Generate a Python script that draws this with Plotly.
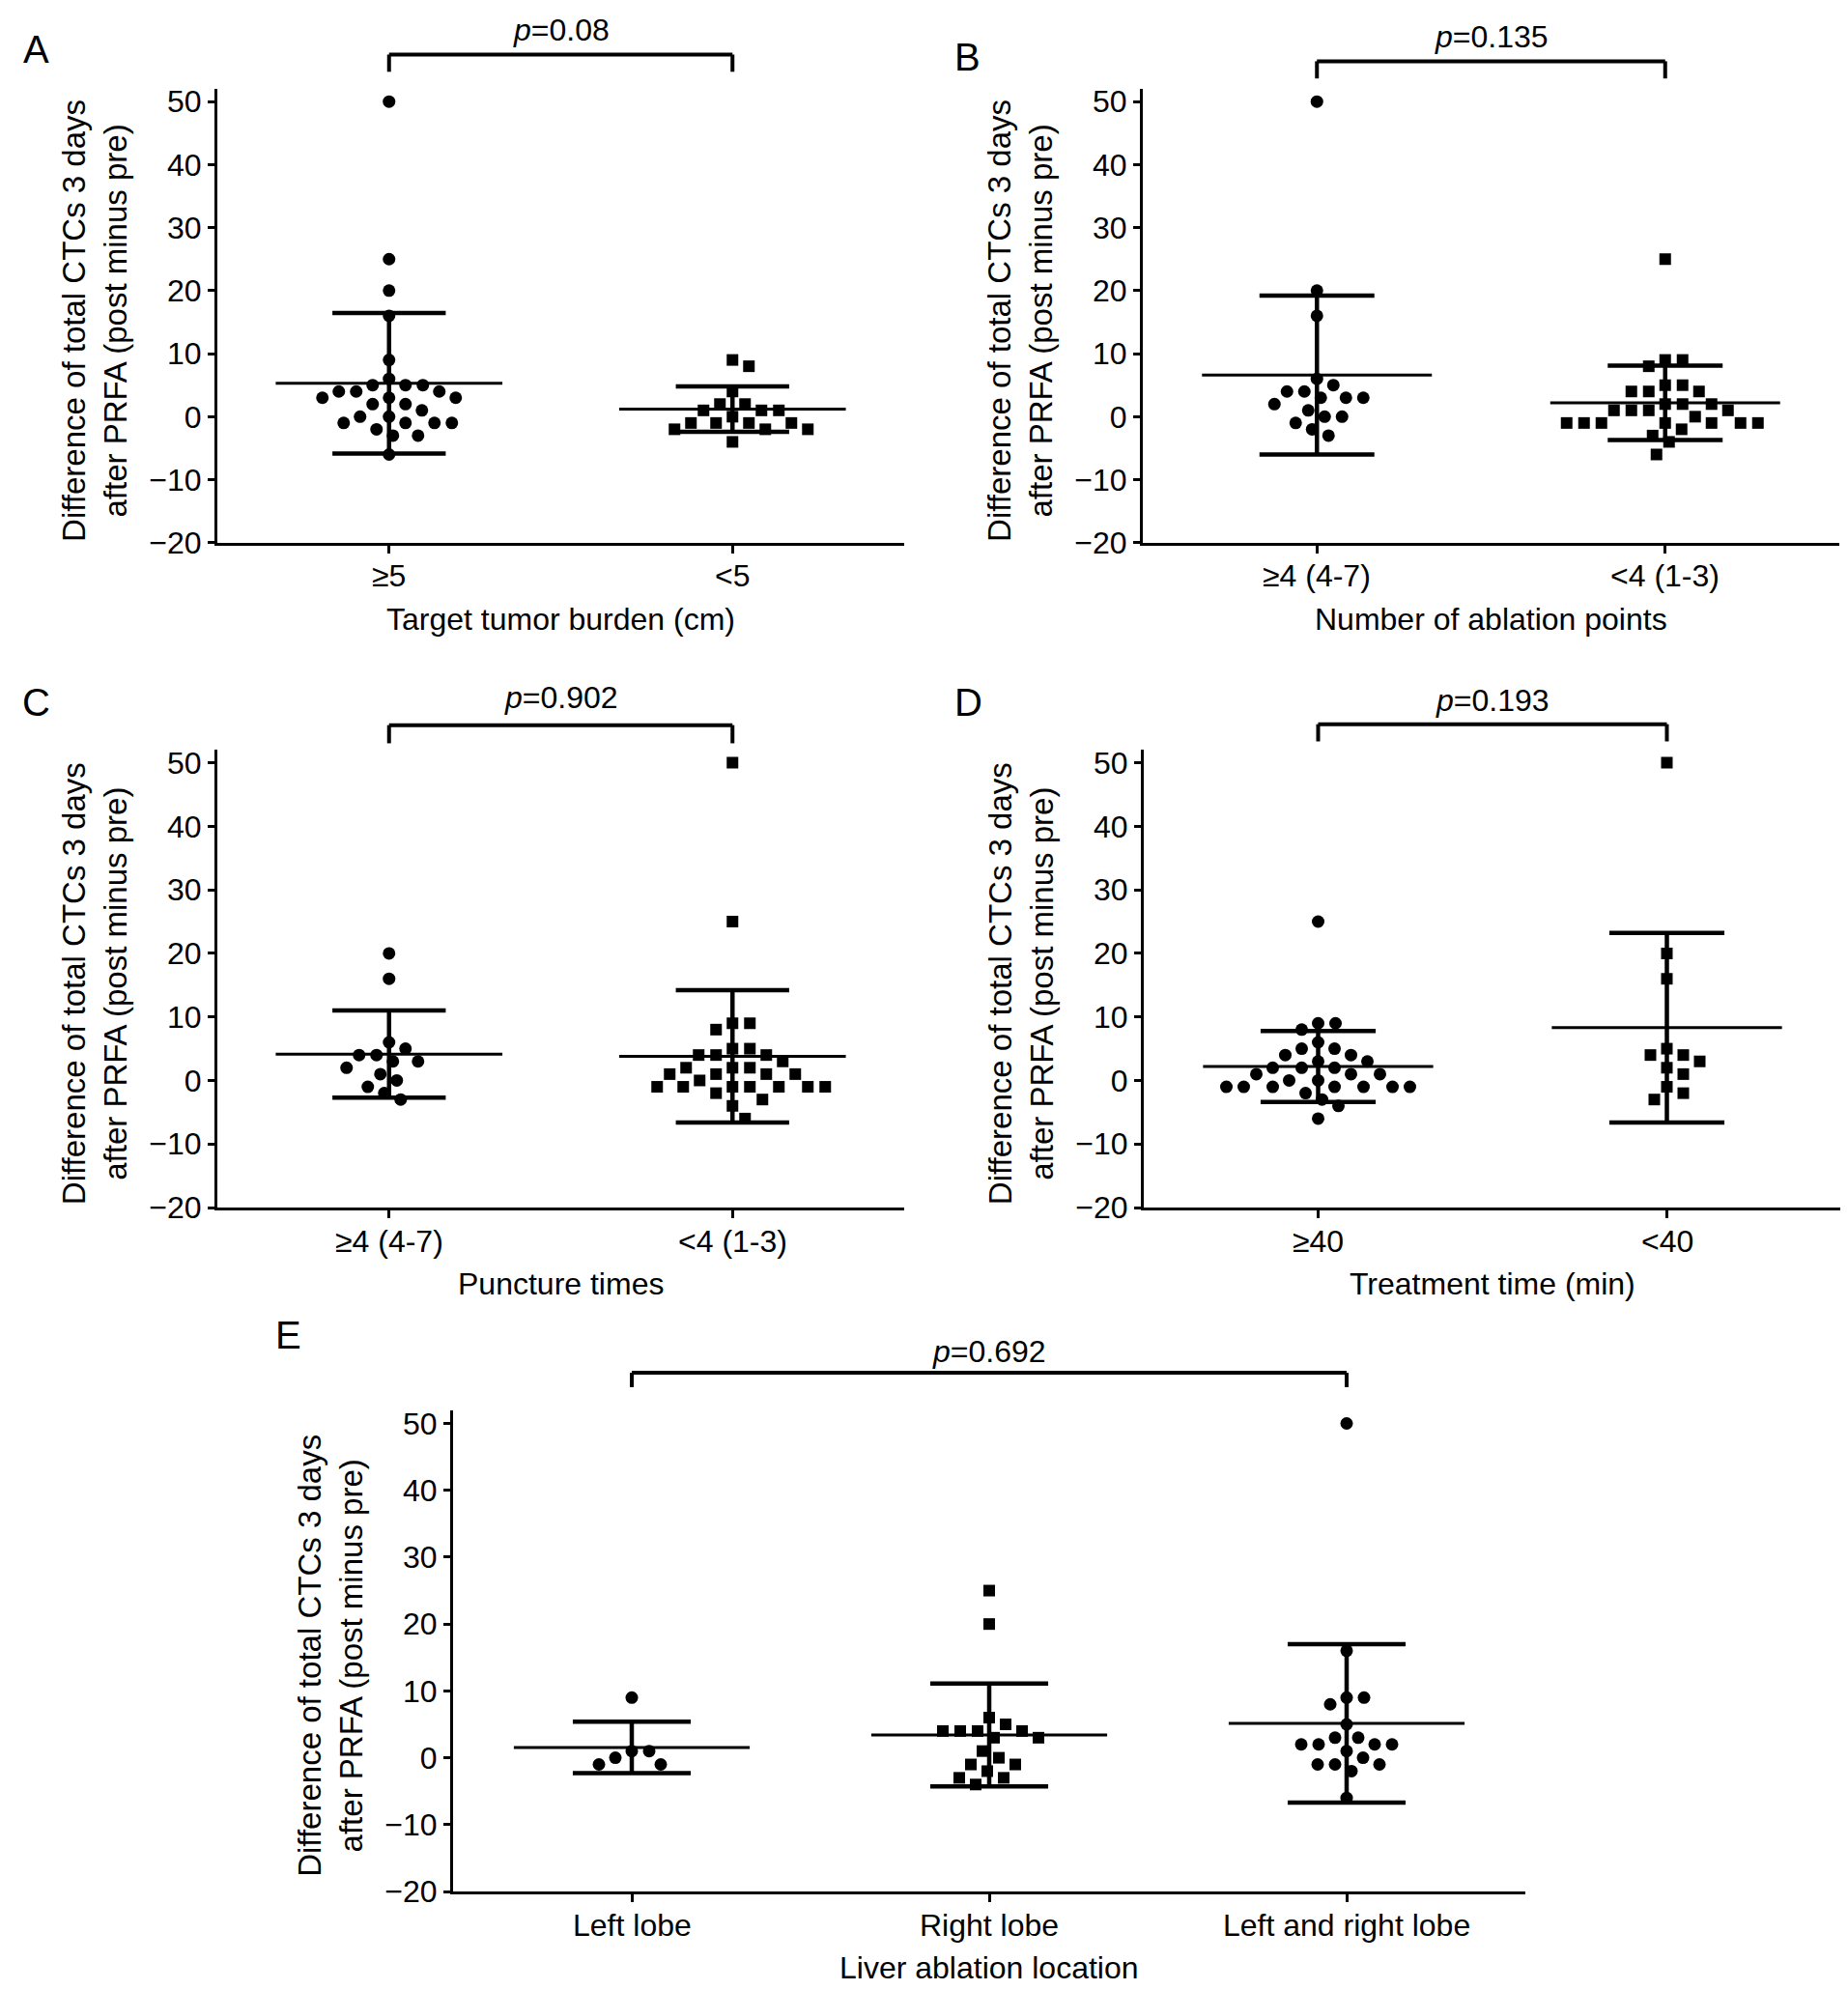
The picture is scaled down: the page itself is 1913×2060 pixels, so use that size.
import plotly.graph_objects as go

W, H = 1913, 2060
FONT = 'Liberation Sans, Arial, sans-serif'
YTITLE = 'Difference of total CTCs 3 days<br>after PRFA (post minus pre)'

# values (difference of CTCs, post minus pre)
a_cats = ['≥5', '<5']
a_ge5 = [50, 25, 20, 16, 9, 6, 5, 5, 5, 4, 4, 4, 3, 3, 3, 2, 2, 1, 0, 0, -1, -1, -1, -1, -2, -3, -3, -6]
a_lt5 = [9, 8, 4, 2, 2, 1, 1, 1, 0, -1, -1, -1, -1, -2, -2, -2, -4]
a_mean = [5.3, 1.2]
a_sd = [11.15, 3.6]

b_cats = ['≥4 (4-7)', '<4 (1-3)']
b_ge4 = [50, 20, 16, 6, 5, 4, 4, 3, 3, 3, 2, 1, 0, 0, -1, -2, -3]
b_lt4 = [25, 9, 9, 8, 5, 5, 4, 4, 4, 2, 2, 2, 1, 1, 1, 1, 0, -1, -1, -1, -1, -1, -1, -1, -2, -3, -4, -6]
b_mean = [6.6, 2.2]
b_sd = [12.6, 5.9]

c_cats = ['≥4 (4-7)', '<4 (1-3)']
c_ge4 = [20, 16, 6, 5, 4, 4, 3, 3, 2, 1, 0, -1, -2, -3]
c_lt4 = [50, 25, 9, 9, 8, 5, 5, 4, 4, 4, 3, 2, 2, 2, 1, 1, 1, 1, 0,
         -1, -1, -1, -1, -1, -1, -1, -2, -3, -4, -6]
c_mean = [4.15, 3.8]
c_sd = [6.85, 10.4]

d_cats = ['≥40', '<40']
d_ge40 = [25, 9, 9, 8, 6, 5, 5, 4, 4, 3, 3, 2, 2, 2, 1, 1, 1, 0, 0,
          -1, -1, -1, -1, -1, -1, -1, -2, -3, -4, -6]
d_lt40 = [50, 20, 16, 5, 4, 4, 3, 2, 1, -1, -2, -3]
d_mean = [2.2, 8.3]
d_sd = [5.6, 14.9]

e_cats = ['Left lobe', 'Right lobe', 'Left and right lobe']
e_left = [9, 1, 1, 0, -1, -1]
e_right = [25, 20, 6, 5, 4, 4, 4, 4, 3, 3, 1, 0, -1, -1, -2, -3, -3, -4]
e_both = [50, 16, 9, 9, 8, 5, 3, 3, 2, 2, 2, 2, 1, 0, -1, -1, -1, -2, -6]
e_mean = [1.55, 3.4, 5.15]
e_sd = [3.85, 7.7, 11.85]

p_values = ['0.08', '0.135', '0.902', '0.193', '0.692']

panels = [
    dict(letter='A', cats=a_cats, groups=[a_ge5, a_lt5], sym=['circle', 'square'],
         mean=a_mean, sd=a_sd, xtitle='Target tumor burden (cm)',
         box=(217, 928, 80, 555), lxy=(29, 38), py=18, br=(44, 62)),
    dict(letter='B', cats=b_cats, groups=[b_ge4, b_lt4], sym=['circle', 'square'],
         mean=b_mean, sd=b_sd, xtitle='Number of ablation points',
         box=(1175, 1896, 80, 555), lxy=(993, 47), py=25, br=(51, 69)),
    dict(letter='C', cats=c_cats, groups=[c_ge4, c_lt4], sym=['circle', 'square'],
         mean=c_mean, sd=c_sd, xtitle='Puncture times',
         box=(217, 928, 772, 1251), lxy=(29, 722), py=717, br=(746, 765)),
    dict(letter='D', cats=d_cats, groups=[d_ge40, d_lt40], sym=['circle', 'square'],
         mean=d_mean, sd=d_sd, xtitle='Treatment time (min)',
         box=(1176, 1898, 772, 1251), lxy=(995, 722), py=720, br=(745, 763)),
    dict(letter='E', cats=e_cats, groups=[e_left, e_right, e_both],
         sym=['circle', 'square', 'circle'],
         mean=e_mean, sd=e_sd, xtitle='Liver ablation location',
         box=(461, 1571, 1463, 1967), lxy=(290, 1384), py=1402, br=(1424, 1439)),
]

YMIN, YMAX = -20, 52


def px(x):
    return x / W


def py(y):
    return 1 - y / H


def swarm(vals, ppx, ppy, d=18):
    # simple beeswarm: push points sideways until they stop overlapping
    placed = []
    offs = [0.0] * len(vals)
    order = sorted(range(len(vals)), key=lambda i: -vals[i])
    for i in order:
        y = vals[i] * ppy
        k = 0
        dx = None
        while dx is None:
            for cand in ((0,) if k == 0 else (k, -k)):
                if all((cand - a) ** 2 + (y - b) ** 2 >= d * d for a, b in placed):
                    dx = cand
                    break
            k += 1
        placed.append((dx, y))
        offs[i] = dx / ppx
    return offs


fig = go.Figure()
layout = dict(width=W, height=H, margin=dict(l=0, r=0, t=0, b=0),
              paper_bgcolor='white', plot_bgcolor='white', showlegend=False,
              font=dict(family=FONT, size=32, color='black'))
shapes = []
annotations = []

for n, p in enumerate(panels, start=1):
    sfx = '' if n == 1 else str(n)
    xa, ya = 'x' + sfx, 'y' + sfx
    x0, x1, yt, yb = p['box']
    ncat = len(p['cats'])
    ppx = (x1 - x0) / ncat
    ppy = (yb - yt) / (YMAX - YMIN)

    layout['xaxis' + sfx] = dict(
        domain=[px(x0), px(x1)], anchor=ya, range=[-0.5, ncat - 0.5],
        tickvals=list(range(ncat)), showticklabels=False, showline=True,
        linecolor='black', linewidth=3, ticks='outside', ticklen=8, tickwidth=2.5,
        tickcolor='black', showgrid=False, zeroline=False)
    layout['yaxis' + sfx] = dict(
        domain=[py(yb), py(yt)], anchor=xa, range=[YMIN, YMAX],
        tickvals=list(range(-20, 51, 10)), showline=True, linecolor='black',
        linewidth=3, ticks='outside', ticklen=7, tickwidth=2.5, tickcolor='black',
        showgrid=False, zeroline=False, tickfont=dict(size=32))

    for g, vals in enumerate(p['groups']):
        offs = swarm(vals, ppx, ppy)
        m, s = p['mean'][g], p['sd'][g]
        # mean line
        fig.add_trace(go.Scatter(x=[g - 0.33, g + 0.33], y=[m, m], mode='lines',
                                 line=dict(color='black', width=3),
                                 xaxis=xa, yaxis=ya, hoverinfo='skip'))
        # SD bar
        fig.add_trace(go.Scatter(x=[g], y=[m], mode='markers',
                                 marker=dict(size=1, color='black'),
                                 error_y=dict(type='data', array=[s], color='black',
                                              thickness=4.5, width=0.165 * ppx),
                                 xaxis=xa, yaxis=ya, hoverinfo='skip'))
        fig.add_trace(go.Scatter(x=[g + o for o in offs], y=vals, mode='markers',
                                 marker=dict(symbol=p['sym'][g], color='black',
                                             size=13 if p['sym'][g] == 'circle' else 12,
                                             line=dict(width=0)),
                                 xaxis=xa, yaxis=ya))
        # category label under the tick
        annotations.append(dict(text=p['cats'][g], x=g, xref=xa, y=py(yb + 35),
                                yref='paper', showarrow=False, xanchor='center',
                                yanchor='middle', font=dict(size=32)))

    # significance bracket
    b0, b1 = py(p['br'][0]), py(p['br'][1])
    last = ncat - 1
    for xs, ys in (([0, last], [b0, b0]), ([0, 0], [b0, b1]), ([last, last], [b0, b1])):
        shapes.append(dict(type='line', xref=xa, yref='paper', x0=xs[0], x1=xs[1],
                           y0=ys[0], y1=ys[1], line=dict(color='black', width=4)))
    xmid = x0 + ppx * (0.5 + last / 2)
    annotations.append(dict(text='<i>p</i>=' + p_values[n - 1], x=px(xmid), y=py(p['py']),
                            xref='paper', yref='paper', showarrow=False,
                            xanchor='center', yanchor='middle', font=dict(size=32)))
    annotations.append(dict(text=p['letter'], x=px(p['lxy'][0]), y=py(p['lxy'][1]),
                            xref='paper', yref='paper', showarrow=False,
                            xanchor='center', yanchor='middle', font=dict(size=40)))
    annotations.append(dict(text=YTITLE, textangle=-90, x=px(x0 - 127),
                            y=py((yt + yb) / 2 + 5), xref='paper', yref='paper',
                            showarrow=False, xanchor='center', yanchor='middle',
                            font=dict(size=33)))
    annotations.append(dict(text=p['xtitle'], x=px(xmid), y=py(yb + 80),
                            xref='paper', yref='paper', showarrow=False,
                            xanchor='center', yanchor='middle', font=dict(size=32)))

layout['shapes'] = shapes
layout['annotations'] = annotations
fig.update_layout(**layout)
fig.write_html('out.html')
